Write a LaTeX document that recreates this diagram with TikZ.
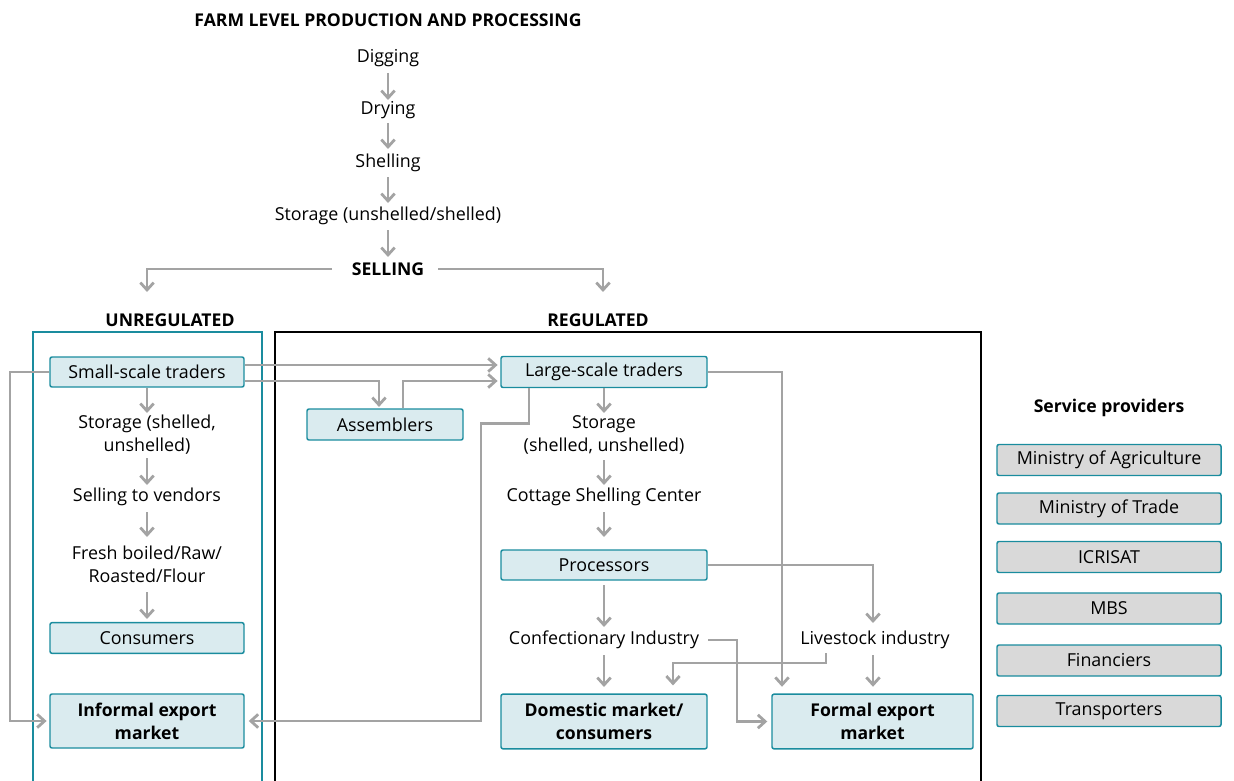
\documentclass[tikz,border=0pt]{standalone}
\usepackage{fontspec}
\setmainfont{Open Sans}
\usetikzlibrary{arrows.meta}
\definecolor{teal1}{HTML}{1A8C9E}
\definecolor{boxfill}{HTML}{DAEBEF}
\definecolor{gfill}{HTML}{D9D9D9}
\definecolor{arrg}{HTML}{A3A3A3}
\begin{document}
\begin{tikzpicture}[x=0.75pt,y=-0.75pt,
  every node/.style={font=\fontsize{13.4}{17.25}\selectfont, inner sep=0pt, align=center},
  hdr/.style={font=\fontsize{13.2}{17.25}\selectfont\bfseries},
  bx/.style={draw=teal1, fill=boxfill, line width=1.1pt, rounded corners=1.5pt},
  bbx/.style={bx, font=\fontsize{13.2}{17.25}\selectfont\bfseries},
  gbx/.style={bx, fill=gfill, minimum width=168pt, minimum height=23.25pt},
  arr/.style={draw=arrg, line width=2.1pt, -{Straight Barb[length=5.5pt,width=10pt]}}]
\useasboundingbox (0,0) rectangle (1234,781);
% frames
\draw[teal1, line width=1.5pt] (33,790) -- (33,332) -- (262,332) -- (262,790);
\draw[black, line width=1.8pt] (275,790) -- (275,332) -- (981,332) -- (981,790);
% top chain
\node[hdr] (title) at (388,20) {FARM LEVEL PRODUCTION AND PROCESSING};
\node (dig) at (388,58) {Digging};
\node (dry) at (388,110) {Drying};
\node (shel) at (388,163) {Shelling};
\node (stor) at (388,216) {Storage (unshelled/shelled)};
\node[hdr] (sell) at (388,269) {SELLING};
\node[hdr] (unreg) at (170,320) {UNREGULATED};
\node[hdr] (reg) at (598,320) {REGULATED};
\coordinate (uarr) at (147,292);
\coordinate (rarr) at (603,292);
\draw[arr] (dig.south |- 0,73) -- (dig.south |- 0,100);
\draw[arr] (dry.south |- 0,123) -- (dry.south |- 0,149);
\draw[arr] (shel.south |- 0,177) -- (shel.south |- 0,203);
\draw[arr] (stor.south |- 0,230) -- (stor.south |- 0,257);
\draw[arr] (332,0 |- sell.west) -| (uarr);
\draw[arr] (438,0 |- sell.east) -| (rarr);
% unregulated
\node[bx, minimum width=145.5pt, minimum height=22.5pt] (ss) at (147,372) {Small-scale traders};
\node (us) at (147,435) {Storage (shelled,\\unshelled)};
\node (vend) at (147,497) {Selling to vendors};
\node (fresh) at (147,564) {Fresh boiled/Raw/\\Roasted/Flour};
\node[bx, minimum width=145.5pt, minimum height=23pt] (cons) at (147,638) {Consumers};
\node[bbx, minimum width=145.5pt, minimum height=40.5pt] (inf) at (147,721) {Informal export\\market};
\draw[arr] (ss.south) -- (ss.south |- 0,413);
\draw[arr] (ss.south |- 0,458) -- (ss.south |- 0,485);
\draw[arr] (ss.south |- 0,512) -- (ss.south |- 0,537);
\draw[arr] (ss.south |- 0,592) -- (cons.north |- 0,619);
\draw[arr, shorten >=2pt] (ss.west) -- (10,0 |- ss.west) |- (inf.west);
% regulated
\node[bx, minimum width=117pt, minimum height=23.25pt] (asm) at (385,424.5) {Assemblers};
\node[bx, minimum width=154.5pt, minimum height=23.25pt] (ls) at (604,372) {Large-scale traders};
\node (lstor) at (604,435) {Storage\\(shelled, unshelled)};
\node (cott) at (604,497) {Cottage Shelling Center};
\node[bx, minimum width=154.5pt, minimum height=22.5pt] (proc) at (604,565) {Processors};
\node (conf) at (604,640) {Confectionary Industry};
\node (live) at (875,640) {Livestock industry};
\node[bbx, minimum width=154.5pt, minimum height=41pt] (dom) at (604,721.5) {Domestic market/\\consumers};
\node[bbx, minimum width=150.75pt, minimum height=41pt] (formal) at (872.5,721.5) {Formal export\\market};
\draw[arr, shorten >=2pt] (ss.east |- 0,365) -- (ls.west |- 0,365);
\draw[arr, shorten >=1pt] (ss.east |- 0,381) -| ([xshift=-4.5pt]asm.north);
\draw[arr, shorten >=2pt] ([xshift=13.5pt]asm.north) |- (ls.west |- 0,381);
\draw[arr, shorten >=3pt] ([xshift=-56.25pt]ls.south) -- ++(0,35) -- ++(-48,0) |- (inf.east);
\draw[arr] (ls.south) -- (ls.south |- 0,413);
\draw[arr] (ls.south |- 0,460) -- (ls.south |- 0,485);
\draw[arr] (ls.south |- 0,512) -- (ls.south |- 0,537);
\draw[arr] (proc.south |- 0,585) -- (proc.south |- 0,627);
\draw[arr] (proc.south |- 0,655) -- (proc.south |- 0,687);
\draw[arr, shorten >=3pt] (708,0 |- conf.east) -- (737,0 |- conf.east) |- (formal.west);
\draw[arr, shorten >=5pt] (ls.east) -| ([xshift=-67.875pt]formal.north);
\draw[arr] (proc.east) -| (873,623);
\draw[arr, shorten >=6pt] (826,653) -- (826,663) -| ([xshift=51.75pt]dom.north);
\draw[arr, shorten >=5pt] (873,655) -- (873,0 |- formal.north);
% service providers
\node[hdr] (sp) at (1109,408) {Service providers};
\node[gbx] (s1) at (1109,460) {Ministry of Agriculture};
\node[gbx] (s2) at (1109,508.5) {Ministry of Trade};
\node[gbx] (s3) at (1109,557) {ICRISAT};
\node[gbx] (s4) at (1109,608.5) {MBS};
\node[gbx] (s5) at (1109,660.5) {Financiers};
\node[gbx] (s6) at (1109,711) {Transporters};
\end{tikzpicture}
\end{document}
